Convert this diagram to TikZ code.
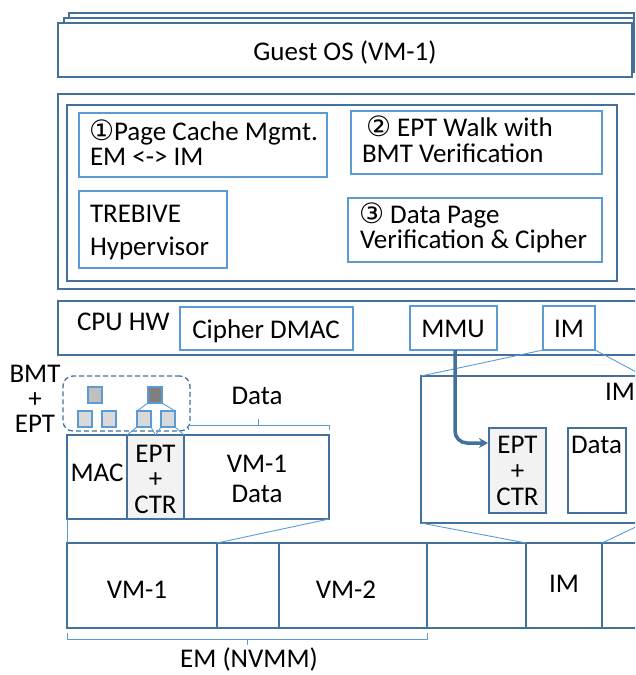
\documentclass[tikz,border=0pt]{standalone}
\usepackage{fontspec}
\setmainfont{Carlito}
\newfontfamily\symfont{DejaVu Sans}
\newcommand{\circnum}[1]{{\symfont\fontsize{28}{25}\selectfont #1}}
\usetikzlibrary{arrows.meta}
\definecolor{dk}{HTML}{41719C}
\definecolor{lt}{HTML}{5B9BD5}
\definecolor{gfill}{HTML}{F2F2F2}
\definecolor{sqlight}{HTML}{D9D9D9}
\definecolor{sqmid}{HTML}{BFBFBF}
\definecolor{sqdark}{HTML}{7F7F7F}
\tikzset{
 outerbox/.style={draw=dk, line width=1.5pt, fill=white, anchor=north west, inner sep=0pt, outer sep=0pt},
 innerbox/.style={draw=lt, line width=1.1pt, fill=white, anchor=north west, inner sep=0pt, outer sep=0pt},
 txt/.style={font=\fontsize{27}{25}\selectfont, inner sep=0pt, outer sep=0pt, text=black},
 conn/.style={draw=lt, line width=0.9pt},
 sq/.style={draw=lt, line width=1.2pt, anchor=north west, inner sep=0pt, outer sep=0pt, minimum width=14pt, minimum height=16pt},
 dashbox/.style={draw=dk, dashed, dash pattern=on 5pt off 3pt, line width=1.3pt, rounded corners=10pt, anchor=north west, inner sep=0pt, outer sep=0pt},
 arrowst/.style={draw=dk, line width=3.5pt, rounded corners=12pt, -{Stealth[length=9pt,width=10pt]}},
}
\begin{document}
\begin{tikzpicture}[x=1pt,y=-1pt]
\useasboundingbox (0,0) rectangle (635,675);
\clip (0,0) rectangle (635,675);
% Guest OS
\node[outerbox, minimum width=565pt, minimum height=54pt] (gb1) at (69,13) {};
\node[outerbox, minimum width=570pt, minimum height=54pt] (gb2) at (64,18) {};
\node[outerbox, minimum width=574pt, minimum height=54pt] (guest) at (58,23) {};
\node[txt, anchor=base] (guestt) at (345,60) {Guest OS (VM-1)};
% Hypervisor
\node[outerbox, minimum width=587pt, minimum height=195pt] (hvo) at (58,94) {};
\node[outerbox, minimum width=550pt, minimum height=176pt] (hvi) at (67,105) {};
\node[innerbox, minimum width=248pt, minimum height=64pt] (b1) at (79,113) {};
\node[txt, anchor=base west] (b1a) at (89,140) {\circnum{①}Page Cache Mgmt.};
\node[txt, anchor=base west] (b1b) at (90,165) {EM <-> IM};
\node[innerbox, minimum width=251pt, minimum height=63pt] (b2) at (351,111) {};
\node[txt, anchor=base west] (b2a) at (366,136) {\circnum{②} EPT Walk with};
\node[txt, anchor=base west] (b2b) at (362,162) {BMT Verification};
\node[innerbox, minimum width=148pt, minimum height=77pt] (b4) at (79,191) {};
\node[txt, anchor=base west] (b4a) at (90,222) {TREBIVE};
\node[txt, anchor=base west] (b4b) at (90,255) {Hypervisor};
\node[innerbox, minimum width=254pt, minimum height=64pt] (b3) at (348,198) {};
\node[txt, anchor=base west] (b3a) at (359,223) {\circnum{③} Data Page};
\node[txt, anchor=base west] (b3b) at (360,248) {Verification \& Cipher};
% CPU HW
\node[outerbox, minimum width=587pt, minimum height=54pt] (cpu) at (58,301) {};
\node[txt, anchor=base west] (cput) at (77,330) {CPU HW};
\node[innerbox, minimum width=173pt, minimum height=43pt] (dmac) at (180,307) {};
\node[txt, anchor=base] (dmact) at (266,338) {Cipher DMAC};
\node[innerbox, minimum width=87pt, minimum height=44pt] (mmu) at (410,306) {};
\node[txt, anchor=base] (mmut) at (453,337) {MMU};
\node[innerbox, minimum width=52pt, minimum height=44pt] (imc) at (543,306) {};
\node[txt, anchor=base] (imct) at (569,337) {IM};
% BMT + EPT
\node[txt, anchor=base] (bmt1) at (35,382) {BMT};
\node[txt, anchor=base] (bmt2) at (35,407) {+};
\node[txt, anchor=base] (bmt3) at (35,432) {EPT};
\node[dashbox, minimum width=127pt, minimum height=55pt] (tree) at (63,376) {};
\node[sq, fill=sqmid] (s0) at (88,387) {};
\node[sq, fill=sqdark] (s1) at (148,387) {};
\node[sq, fill=sqlight] (s2) at (78,411) {};
\node[sq, fill=sqlight] (s3) at (102,411) {};
\node[sq, fill=sqlight] (s4) at (137,411) {};
\node[sq, fill=sqlight] (s5) at (161,411) {};
\draw[conn] (s1.south west) -- (s4.north west);
\draw[conn] (s1.south east) -- (s5.north east);
% Page row
\node[outerbox, minimum width=60pt, minimum height=84pt] (mac) at (67,435) {};
\node[outerbox, fill=gfill, minimum width=57pt, minimum height=84pt] (ept1) at (127,435) {};
\node[outerbox, minimum width=145pt, minimum height=84pt] (vmd) at (184,435) {};
\node[txt, anchor=base] (mact) at (97,481) {MAC};
\node[txt, anchor=base] (ept1a) at (155.5,462) {EPT};
\node[txt, anchor=base] (ept1b) at (155.5,487) {+};
\node[txt, anchor=base] (ept1c) at (155.5,513) {CTR};
\node[txt, anchor=base] (vmda) at (257,472) {VM-1};
\node[txt, anchor=base] (vmdb) at (257,502) {Data};
\draw[conn] (s4.south west) -- (ept1.north west);
\draw[conn] (s4.south east) -- (ept1.north);
\draw[conn] (s5.south west) -- (ept1.north);
\draw[conn] (s5.south east) -- (ept1.north east);
\node[txt, anchor=base] (datat) at (257,404) {Data};
\draw[conn] (188,430) -- (188,425) -- (329,425) -- (329,430);
\draw[conn] (258,425) -- (258,419);
% EM row
\node[outerbox, minimum width=150pt, minimum height=85pt] (em1) at (67,543) {};
\node[outerbox, minimum width=62pt, minimum height=85pt] (em2) at (217,543) {};
\node[outerbox, minimum width=148pt, minimum height=85pt] (em3) at (279,543) {};
\node[outerbox, minimum width=99pt, minimum height=85pt] (em4) at (427,543) {};
\node[outerbox, minimum width=76pt, minimum height=85pt] (em5) at (526,543) {};
\node[outerbox, minimum width=60pt, minimum height=85pt] (em6) at (602,543) {};
\node[txt, anchor=base] (em1t) at (137,598) {VM-1};
\node[txt, anchor=base] (em3t) at (346,598) {VM-2};
\node[txt, anchor=base] (em5t) at (564,592) {IM};
\draw[conn] (mac.south west) -- (em1.north west);
\draw[conn] (vmd.south east) -- (em1.north east);
\draw[conn] (67,633) -- (67,639) -- (427,639) -- (427,633);
\draw[conn] (247,639) -- (247,645);
\node[txt, anchor=base] (emt) at (249,667) {EM (NVMM)};
% IM zoom
\node[outerbox, minimum width=240pt, minimum height=147pt] (imz) at (421,376) {};
\node[txt, anchor=base west] (imzt) at (605,400) {IM};
\node[outerbox, fill=gfill, minimum width=57pt, minimum height=85pt] (ept2) at (489,428) {};
\node[txt, anchor=base] (ept2a) at (517.5,453) {EPT};
\node[txt, anchor=base] (ept2b) at (517.5,479) {+};
\node[txt, anchor=base] (ept2c) at (517.5,505) {CTR};
\node[outerbox, minimum width=58pt, minimum height=85pt] (dat2) at (568,428) {};
\node[txt, anchor=base west] (dat2t) at (571,453) {Data};
\coordinate (imzr) at (640,374);
\coordinate (imzbr) at (640,525);
\draw[conn] (imc.south west) -- (imz.north west);
\draw[conn] (imc.south east) -- (imzr);
\draw[conn] (imz.south west) -- (em5.north west);
\draw[conn] (em5.north east) -- (imzbr);
% arrow
\coordinate (aend) at (488,443);
\draw[arrowst] ([xshift=1.5pt]mmu.south) |- (aend);
\end{tikzpicture}
\end{document}
